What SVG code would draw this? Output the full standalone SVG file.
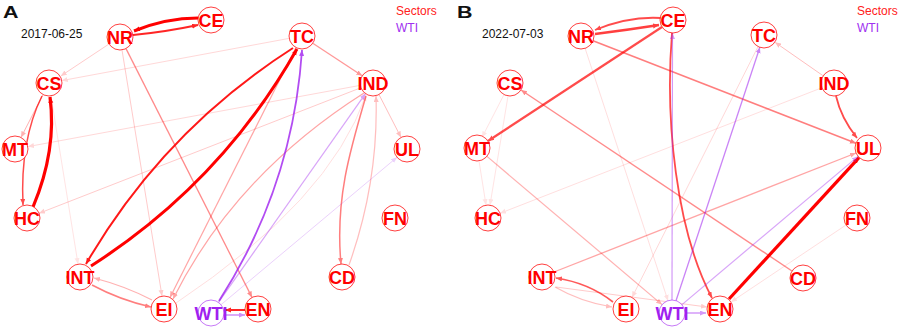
<svg xmlns="http://www.w3.org/2000/svg" width="899" height="329" viewBox="0 0 899 329">
<style>
text{font-family:"Liberation Sans",Arial,sans-serif}
.pl{font-size:16.5px;font-weight:bold;fill:#111}
.dt{font-size:12px;fill:#111}
.lg{font-size:12px}
.e{fill:none}
.r{stroke:#ff0000;marker-end:url(#ar)}
.p{stroke:#a020f0;marker-end:url(#ap)}
.nc{fill:#fff;stroke:#ff0000;stroke-opacity:0.75;stroke-width:1}
.nw{fill:#fff;stroke:#a020f0;stroke-opacity:0.6;stroke-width:1}
.nt{font-size:18px;font-weight:bold;fill:#ff0000;text-anchor:middle}
.wt{font-size:18px;font-weight:bold;fill:#a020f0;text-anchor:middle}
</style>
<defs>
<marker id="ar" markerUnits="userSpaceOnUse" markerWidth="7" markerHeight="6" refX="6" refY="2.5" orient="auto"><path d="M0,0 L6,2.5 L0,5 z" fill="#ff0000"/></marker>
<marker id="ap" markerUnits="userSpaceOnUse" markerWidth="7" markerHeight="6" refX="6" refY="2.5" orient="auto"><path d="M0,0 L6,2.5 L0,5 z" fill="#a020f0"/></marker>
</defs>
<rect width="899" height="329" fill="#fff"/>

<g id="panelA">
<text class="pl" x="3" y="17.5" textLength="15.5" lengthAdjust="spacingAndGlyphs">A</text>
<text class="dt" x="21" y="37.5">2017-06-25</text>
<text class="lg" x="396" y="15" fill="#ff2020">Sectors</text>
<text class="lg" x="396" y="31.5" fill="#a030f0">WTI</text>
<g id="connectorsA" class="e">
<path class="r" d="M198,18 Q166,18 134,31" stroke-width="3"/>
<path class="r" d="M133,35 Q165,32 198,25" stroke-width="2" opacity="0.85"/>
<path class="r" d="M33,207 Q57,150 50,97" stroke-width="3.2"/>
<path class="r" d="M42,96 Q20,140 23,205" stroke-width="1.5" opacity="0.7"/>
<path class="r" d="M43,94.6 L21,137.4" stroke-width="1" opacity="0.3"/>
<path class="r" d="M293,48 Q163,131 86,264" stroke-width="2" opacity="0.9"/>
<path class="r" d="M91,266 Q221,183 297,49" stroke-width="3"/>
<path class="r" d="M245,310 L225,310" stroke-width="2" opacity="0.85"/>
<path class="r" d="M92,285 Q120,300 151,307" stroke-width="1.5" opacity="0.5"/>
<path class="r" d="M152,300 Q125,286 94,278" stroke-width="1.2" opacity="0.3"/>
<path class="r" d="M366,96 C350,150 335,200 341,264" stroke-width="1.5" opacity="0.5"/>
<path class="r" d="M349,265 C365,220 378,160 376,96" stroke-width="1.2" opacity="0.25"/>
<path class="r" d="M312.8,43.2 L362.2,75.8" stroke-width="1.3" opacity="0.4"/>
<path class="r" d="M379,94.6 L401,137.4" stroke-width="1" opacity="0.25"/>
<path class="r" d="M126,48.6 L252,297.4" stroke-width="1.3" opacity="0.45"/>
<path class="r" d="M122,50 L162,296" stroke-width="1" opacity="0.2"/>
<path class="r" d="M109,44 L60.8,76" stroke-width="1" opacity="0.2"/>
<path class="r" d="M289,38.4 L61.8,80.6" stroke-width="1" opacity="0.15"/>
<path class="r" d="M360,85.4 L28,146.6" stroke-width="1" opacity="0.15"/>
<path class="r" d="M361,87.7 L39,213.3" stroke-width="1" opacity="0.2"/>
<path class="r" d="M51,96 L78,264" stroke-width="1" opacity="0.1"/>
<path class="r" d="M296,47.6 L170,297.4" stroke-width="1.2" opacity="0.35"/>
<path class="r" d="M364,93 Q235,175 173,299" stroke-width="1.2" opacity="0.35"/>
<path class="r" d="M176,303 Q330,200 366,95" stroke-width="1" opacity="0.12"/>
<path class="p" d="M219,301 Q293,186 302,50" stroke-width="1.8" opacity="0.8"/>
<path class="p" d="M225,315 L245,315" stroke-width="1.5" opacity="0.5"/>
<path class="p" d="M218.5,302.4 L365.5,93.6" stroke-width="1.2" opacity="0.4"/>
<path class="p" d="M221,304.7 L397,157.3" stroke-width="1" opacity="0.2"/>
</g>
<g id="A-NR"><circle class="nc" cx="120" cy="37" r="13"/><text class="nt" x="120" y="43.5">NR</text></g>
<g id="A-CE"><circle class="nc" cx="211" cy="20" r="13"/><text class="nt" x="211" y="26.5">CE</text></g>
<g id="A-TC"><circle class="nc" cx="302" cy="36" r="13"/><text class="nt" x="302" y="42.5">TC</text></g>
<g id="A-IND"><circle class="nc" cx="373" cy="83" r="13"/><text class="nt" x="373" y="89.5">IND</text></g>
<g id="A-CS"><circle class="nc" cx="49" cy="83" r="13"/><text class="nt" x="49" y="89.5">CS</text></g>
<g id="A-MT"><circle class="nc" cx="15" cy="149" r="13"/><text class="nt" x="15" y="155.5">MT</text></g>
<g id="A-UL"><circle class="nc" cx="407" cy="149" r="13"/><text class="nt" x="407" y="155.5">UL</text></g>
<g id="A-HC"><circle class="nc" cx="27" cy="218" r="13"/><text class="nt" x="27" y="224.5">HC</text></g>
<g id="A-FN"><circle class="nc" cx="395" cy="218" r="13"/><text class="nt" x="395" y="224.5">FN</text></g>
<g id="A-INT"><circle class="nc" cx="80" cy="277" r="13"/><text class="nt" x="80" y="283.5">INT</text></g>
<g id="A-CD"><circle class="nc" cx="342" cy="277" r="13"/><text class="nt" x="342" y="283.5">CD</text></g>
<g id="A-EI"><circle class="nc" cx="164" cy="309" r="13"/><text class="nt" x="164" y="315.5">EI</text></g>
<g id="A-WTI"><circle class="nw" cx="211" cy="313" r="13"/><text class="wt" x="211" y="319.5">WTI</text></g>
<g id="A-EN"><circle class="nc" cx="258" cy="309" r="13"/><text class="nt" x="258" y="315.5">EN</text></g>
</g>

<g id="panelB" transform="translate(461,0)">
<text class="pl" x="-4" y="17.5" textLength="15.5" lengthAdjust="spacingAndGlyphs">B</text>
<text class="dt" x="21" y="37.5">2022-07-03</text>
<text class="lg" x="396" y="15" fill="#ff2020">Sectors</text>
<text class="lg" x="396" y="31.5" fill="#a030f0">WTI</text>
<g id="connectorsB" class="e">
<path class="r" d="M200,18 Q168,16 134,30" stroke-width="1.8" opacity="0.7"/>
<path class="r" d="M134,34 Q166,30 198,25" stroke-width="2.5" opacity="0.75"/>
<path class="r" d="M201,27 L27,141" stroke-width="2.2" opacity="0.7"/>
<path class="r" d="M211,33 C204,120 215,230 251,298" stroke-width="1.8" opacity="0.7"/>
<path class="r" d="M331,271 L60,90" stroke-width="1.4" opacity="0.45"/>
<path class="r" d="M132,40.7 L395,143.3" stroke-width="1.5" opacity="0.5"/>
<path class="r" d="M375,96 Q380,118 396,138" stroke-width="1.8" opacity="0.7"/>
<path class="r" d="M268,299 L398,157.6" stroke-width="3.2"/>
<path class="r" d="M93,272 L395,153" stroke-width="1.3" opacity="0.35"/>
<path class="r" d="M152,302 Q128,283 95,278" stroke-width="1.6" opacity="0.65"/>
<path class="r" d="M94,287 Q120,302 151,307" stroke-width="1.2" opacity="0.25"/>
<path class="r" d="M26,156.4 L201,304.6" stroke-width="1.2" opacity="0.3"/>
<path class="r" d="M362,75.7 L314,42.3" stroke-width="1" opacity="0.25"/>
<path class="r" d="M95,287 L246,307" stroke-width="1" opacity="0.2"/>
<path class="r" d="M385,225 L270,302" stroke-width="1" opacity="0.12"/>
<path class="r" d="M47,96 L29,205" stroke-width="1" opacity="0.1"/>
<path class="r" d="M18,161 L25,205" stroke-width="1" opacity="0.1"/>
<path class="r" d="M124,48 L207,300.7" stroke-width="1" opacity="0.12"/>
<path class="r" d="M297,46.6 L171,297.4" stroke-width="1" opacity="0.15"/>
<path class="r" d="M361,87.7 L39,213.3" stroke-width="1" opacity="0.12"/>
<path class="r" d="M43,94.6 L21,137.4" stroke-width="1" opacity="0.1"/>
<path class="p" d="M211,300 L211.5,33" stroke-width="1.2" opacity="0.45"/>
<path class="p" d="M215,300.7 L298.9,47.3" stroke-width="1.3" opacity="0.55"/>
<path class="p" d="M221,304.6 L397,156.4" stroke-width="1.2" opacity="0.4"/>
<path class="p" d="M225,313 L245,313" stroke-width="1.5" opacity="0.45"/>
</g>
<g id="B-NR"><circle class="nc" cx="120" cy="36" r="13"/><text class="nt" x="120" y="42.5">NR</text></g>
<g id="B-CE"><circle class="nc" cx="212" cy="20" r="13"/><text class="nt" x="212" y="26.5">CE</text></g>
<g id="B-TC"><circle class="nc" cx="303" cy="35" r="13"/><text class="nt" x="303" y="41.5">TC</text></g>
<g id="B-IND"><circle class="nc" cx="373" cy="83" r="13"/><text class="nt" x="373" y="89.5">IND</text></g>
<g id="B-CS"><circle class="nc" cx="49" cy="83" r="13"/><text class="nt" x="49" y="89.5">CS</text></g>
<g id="B-MT"><circle class="nc" cx="16" cy="148" r="13"/><text class="nt" x="16" y="154.5">MT</text></g>
<g id="B-UL"><circle class="nc" cx="407" cy="148" r="13"/><text class="nt" x="407" y="154.5">UL</text></g>
<g id="B-HC"><circle class="nc" cx="27" cy="218" r="13"/><text class="nt" x="27" y="224.5">HC</text></g>
<g id="B-FN"><circle class="nc" cx="396" cy="218" r="13"/><text class="nt" x="396" y="224.5">FN</text></g>
<g id="B-INT"><circle class="nc" cx="81" cy="277" r="13"/><text class="nt" x="81" y="283.5">INT</text></g>
<g id="B-CD"><circle class="nc" cx="342" cy="278" r="13"/><text class="nt" x="342" y="284.5">CD</text></g>
<g id="B-EI"><circle class="nc" cx="165" cy="309" r="13"/><text class="nt" x="165" y="315.5">EI</text></g>
<g id="B-WTI"><circle class="nw" cx="211" cy="313" r="13"/><text class="wt" x="211" y="319.5">WTI</text></g>
<g id="B-EN"><circle class="nc" cx="259" cy="309" r="13"/><text class="nt" x="259" y="315.5">EN</text></g>
</g>
</svg>
